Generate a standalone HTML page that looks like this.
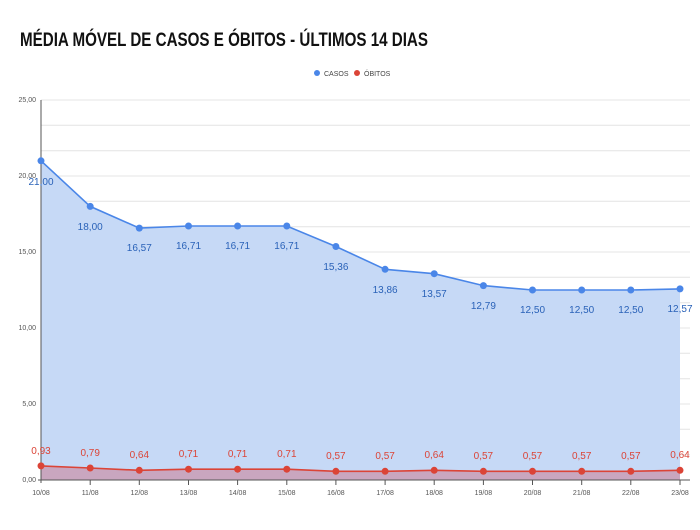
<!DOCTYPE html>
<html><head><style>
body{margin:0;background:#fff;width:700px;height:525px;overflow:hidden;font-family:"Liberation Sans",sans-serif}
</style></head><body>
<svg width="700" height="525" xmlns="http://www.w3.org/2000/svg" font-family="Liberation Sans, sans-serif">
<text x="20" y="46" font-size="19" font-weight="bold" fill="#111" textLength="408" lengthAdjust="spacingAndGlyphs">MÉDIA MÓVEL DE CASOS E ÓBITOS - ÚLTIMOS 14 DIAS</text>
<circle cx="317" cy="73" r="3" fill="#4a86e8"/><text x="324" y="76" font-size="7" fill="#444">CASOS</text>
<circle cx="357" cy="73" r="3" fill="#db4437"/><text x="364" y="76" font-size="7" fill="#444">ÓBITOS</text>
<g stroke="#e4e4e4" stroke-width="1">
<line x1="41" x2="690" y1="100" y2="100"/><line x1="41" x2="690" y1="125.3" y2="125.3"/><line x1="41" x2="690" y1="150.7" y2="150.7"/>
<line x1="41" x2="690" y1="176" y2="176"/><line x1="41" x2="690" y1="201.3" y2="201.3"/><line x1="41" x2="690" y1="226.7" y2="226.7"/>
<line x1="41" x2="690" y1="252" y2="252"/><line x1="41" x2="690" y1="277.3" y2="277.3"/><line x1="41" x2="690" y1="302.7" y2="302.7"/>
<line x1="41" x2="690" y1="328" y2="328"/><line x1="41" x2="690" y1="353.3" y2="353.3"/><line x1="41" x2="690" y1="378.7" y2="378.7"/>
<line x1="41" x2="690" y1="404" y2="404"/><line x1="41" x2="690" y1="429.3" y2="429.3"/><line x1="41" x2="690" y1="454.7" y2="454.7"/>
</g>
<g font-size="7" fill="#555" text-anchor="end">
<text x="36" y="102">25,00</text><text x="36" y="178">20,00</text><text x="36" y="254">15,00</text><text x="36" y="330">10,00</text><text x="36" y="406">5,00</text><text x="36" y="482">0,00</text>
</g>
<polygon fill="#c6d9f6" points="41,480 41,160.8 90.2,206.4 139.3,228.1 188.5,226 237.6,226 286.8,226 335.9,246.5 385.1,269.3 434.2,273.7 483.4,285.6 532.5,290 581.7,290 630.8,290 680,288.9 680,480"/>
<polyline fill="none" stroke="#4a86e8" stroke-width="1.6" points="41,160.8 90.2,206.4 139.3,228.1 188.5,226 237.6,226 286.8,226 335.9,246.5 385.1,269.3 434.2,273.7 483.4,285.6 532.5,290 581.7,290 630.8,290 680,288.9"/>
<polygon fill="#c9a6bf" points="41,480 41,465.9 90.2,468 139.3,470.3 188.5,469.2 237.6,469.2 286.8,469.2 335.9,471.3 385.1,471.3 434.2,470.3 483.4,471.3 532.5,471.3 581.7,471.3 630.8,471.3 680,470.3 680,480"/>
<polyline fill="none" stroke="#db4437" stroke-width="1.6" points="41,465.9 90.2,468 139.3,470.3 188.5,469.2 237.6,469.2 286.8,469.2 335.9,471.3 385.1,471.3 434.2,470.3 483.4,471.3 532.5,471.3 581.7,471.3 630.8,471.3 680,470.3"/>
<line x1="41" x2="41" y1="100" y2="483" stroke="#555"/>
<line x1="38" x2="690" y1="480" y2="480" stroke="#555"/>
<g fill="#4a86e8">
<circle cx="41" cy="160.8" r="3.5"/><circle cx="90.2" cy="206.4" r="3.5"/><circle cx="139.3" cy="228.1" r="3.5"/><circle cx="188.5" cy="226" r="3.5"/><circle cx="237.6" cy="226" r="3.5"/><circle cx="286.8" cy="226" r="3.5"/><circle cx="335.9" cy="246.5" r="3.5"/><circle cx="385.1" cy="269.3" r="3.5"/><circle cx="434.2" cy="273.7" r="3.5"/><circle cx="483.4" cy="285.6" r="3.5"/><circle cx="532.5" cy="290" r="3.5"/><circle cx="581.7" cy="290" r="3.5"/><circle cx="630.8" cy="290" r="3.5"/><circle cx="680" cy="288.9" r="3.5"/>
</g>
<g fill="#db4437">
<circle cx="41" cy="465.9" r="3.5"/><circle cx="90.2" cy="468" r="3.5"/><circle cx="139.3" cy="470.3" r="3.5"/><circle cx="188.5" cy="469.2" r="3.5"/><circle cx="237.6" cy="469.2" r="3.5"/><circle cx="286.8" cy="469.2" r="3.5"/><circle cx="335.9" cy="471.3" r="3.5"/><circle cx="385.1" cy="471.3" r="3.5"/><circle cx="434.2" cy="470.3" r="3.5"/><circle cx="483.4" cy="471.3" r="3.5"/><circle cx="532.5" cy="471.3" r="3.5"/><circle cx="581.7" cy="471.3" r="3.5"/><circle cx="630.8" cy="471.3" r="3.5"/><circle cx="680" cy="470.3" r="3.5"/>
</g>
<g font-size="10" fill="#2a62b8" text-anchor="middle">
<text x="41" y="185">21,00</text><text x="90.2" y="230">18,00</text><text x="139.3" y="251">16,57</text><text x="188.5" y="249">16,71</text><text x="237.6" y="249">16,71</text><text x="286.8" y="249">16,71</text><text x="335.9" y="270">15,36</text><text x="385.1" y="293">13,86</text><text x="434.2" y="297">13,57</text><text x="483.4" y="309">12,79</text><text x="532.5" y="313">12,50</text><text x="581.7" y="313">12,50</text><text x="630.8" y="313">12,50</text><text x="680" y="312">12,57</text>
</g>
<g font-size="10" fill="#db4437" text-anchor="middle">
<text x="41" y="454">0,93</text><text x="90.2" y="456">0,79</text><text x="139.3" y="458">0,64</text><text x="188.5" y="457">0,71</text><text x="237.6" y="457">0,71</text><text x="286.8" y="457">0,71</text><text x="335.9" y="459">0,57</text><text x="385.1" y="459">0,57</text><text x="434.2" y="458">0,64</text><text x="483.4" y="459">0,57</text><text x="532.5" y="459">0,57</text><text x="581.7" y="459">0,57</text><text x="630.8" y="459">0,57</text><text x="680" y="458">0,64</text>
</g>
<g stroke="#555"><line x1="90.2" x2="90.2" y1="480" y2="485"/><line x1="139.3" x2="139.3" y1="480" y2="485"/><line x1="188.5" x2="188.5" y1="480" y2="485"/><line x1="237.6" x2="237.6" y1="480" y2="485"/><line x1="286.8" x2="286.8" y1="480" y2="485"/><line x1="335.9" x2="335.9" y1="480" y2="485"/><line x1="385.1" x2="385.1" y1="480" y2="485"/><line x1="434.2" x2="434.2" y1="480" y2="485"/><line x1="483.4" x2="483.4" y1="480" y2="485"/><line x1="532.5" x2="532.5" y1="480" y2="485"/><line x1="581.7" x2="581.7" y1="480" y2="485"/><line x1="630.8" x2="630.8" y1="480" y2="485"/><line x1="680" x2="680" y1="480" y2="485"/></g>
<g font-size="7" fill="#555" text-anchor="middle">
<text x="41" y="495">10/08</text><text x="90.2" y="495">11/08</text><text x="139.3" y="495">12/08</text><text x="188.5" y="495">13/08</text><text x="237.6" y="495">14/08</text><text x="286.8" y="495">15/08</text><text x="335.9" y="495">16/08</text><text x="385.1" y="495">17/08</text><text x="434.2" y="495">18/08</text><text x="483.4" y="495">19/08</text><text x="532.5" y="495">20/08</text><text x="581.7" y="495">21/08</text><text x="630.8" y="495">22/08</text><text x="680" y="495">23/08</text>
</g>
</svg>
</body></html>
